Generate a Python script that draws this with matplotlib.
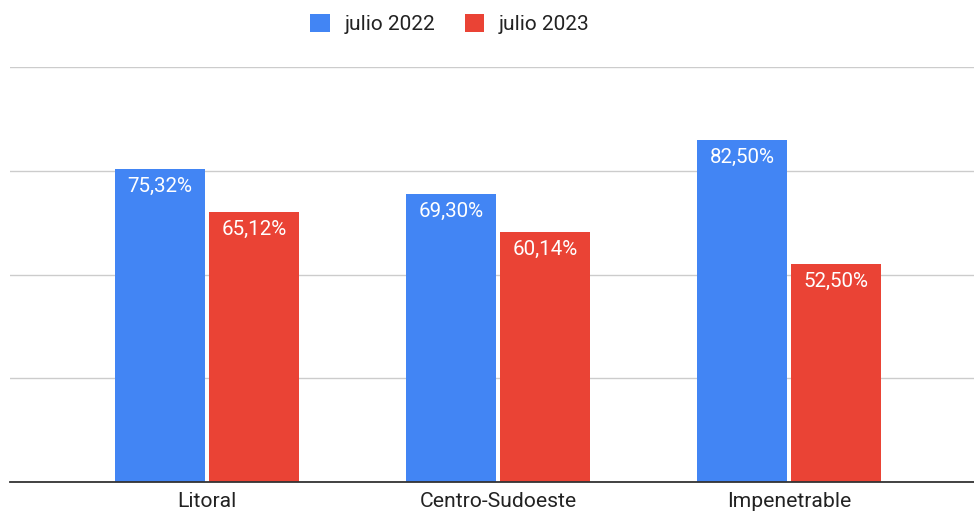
import matplotlib.pyplot as plt
import numpy as np

# ---------------------------------------------------------------------------
# Data
# ---------------------------------------------------------------------------
regions = ["Litoral", "Centro-Sudoeste", "Impenetrable"]
julio_2022 = [75.32, 69.30, 82.50]
julio_2023 = [65.12, 60.14, 52.50]
series_names = ["julio 2022", "julio 2023"]

BLUE = "#4285f4"
RED = "#ea4335"

plt.rcParams["font.family"] = ["Roboto", "DejaVu Sans"]

fig = plt.figure(figsize=(9.74, 5.12), dpi=100)
ax = fig.add_axes([10 / 974, 1 - 482 / 512, 964 / 974, (482 - 67) / 512])

x = np.arange(len(regions))
w = 0.309
off = 0.1615

b1 = ax.bar(x - off, julio_2022, width=w, color=BLUE, label=series_names[0], zorder=3)
b2 = ax.bar(x + off, julio_2023, width=w, color=RED, label=series_names[1], zorder=3)

for bars in (b1, b2):
    for rect in bars:
        h = rect.get_height()
        ax.annotate(f"{h:.2f}%".replace(".", ","),
                    (rect.get_x() + rect.get_width() / 2, h),
                    xytext=(0, -12.5), textcoords="offset points",
                    ha="center", va="center", color="white", fontsize=14.8, zorder=4)

ax.set_ylim(0, 100)
ax.set_xlim(-0.677, 2.636)
ax.set_yticks([0, 25, 50, 75, 100])
ax.yaxis.grid(True, color="#cccccc", linewidth=1, zorder=0)
ax.tick_params(axis="y", left=False, labelleft=False)
ax.set_xticks(x)
ax.set_xticklabels(regions, fontsize=15.2, color="#222222")
ax.tick_params(axis="x", length=0, pad=7)

for s in ["top", "right", "left"]:
    ax.spines[s].set_visible(False)
ax.spines["bottom"].set_color("#333333")
ax.spines["bottom"].set_linewidth(1.3)
ax.spines["bottom"].set_zorder(5)

fig.legend(handles=[b1, b2], loc="center", bbox_to_anchor=(450 / 974, 1 - 24 / 512),
           ncol=2, frameon=False, fontsize=15, handlelength=0.95, handleheight=0.95,
           handletextpad=0.7, columnspacing=1.4, labelcolor="#222222")

plt.savefig("out.png", dpi=100)
